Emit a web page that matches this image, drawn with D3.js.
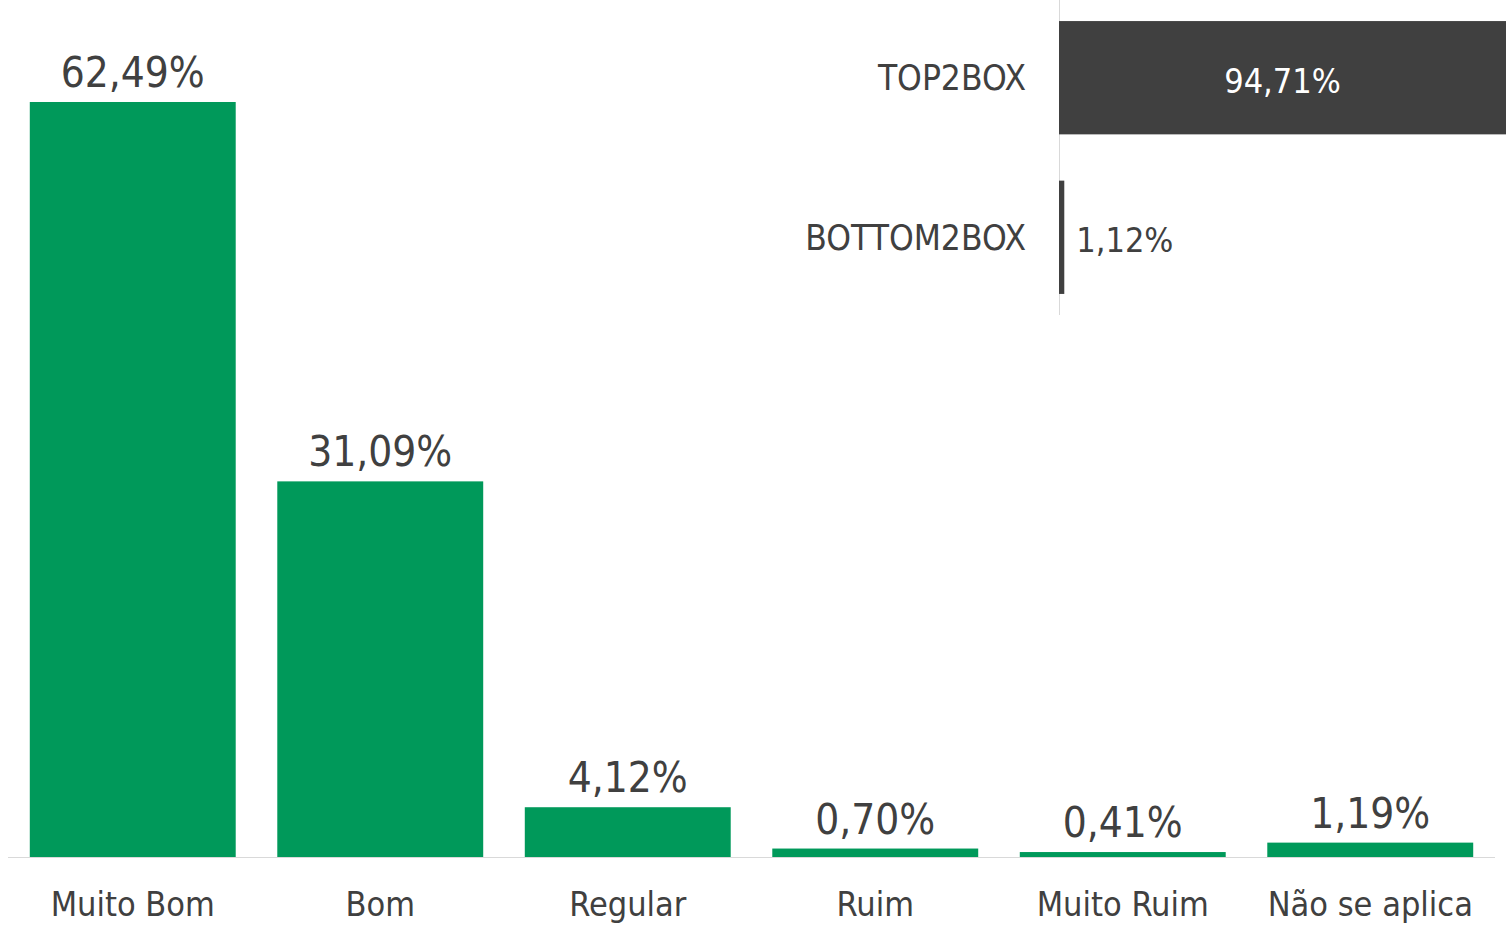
<!DOCTYPE html>
<html>
<head>
<meta charset="utf-8">
<script src="https://cdn.jsdelivr.net/npm/d3@7"></script>
<style>
  html, body { margin: 0; padding: 0; background: #fff; }
  svg { display: block; }
  text { font-family: "DejaVu Sans Condensed", "DejaVu Sans", sans-serif; fill: #404040; }
</style>
</head>
<body>
<svg id="chart" width="1506" height="927"></svg>
<script>
const categories = ["Muito Bom", "Bom", "Regular", "Ruim", "Muito Ruim", "Não se aplica"];
const values = [62.49, 31.09, 4.12, 0.70, 0.41, 1.19];
const boxCategories = ["TOP2BOX", "BOTTOM2BOX"];
const boxValues = [94.71, 1.12];

const fmt = v => v.toFixed(2).replace(".", ",") + "%";

const svg = d3.select("#chart");

// Main chart
const x = d3.scaleBand().domain(categories).range([9, 1494]).paddingInner(0.168).paddingOuter(0.084);
const y = d3.scaleLinear().domain([0, 70]).range([857, 857 - 70 * 12.082]);

svg.append("g").selectAll("rect").data(values).join("rect")
  .attr("x", (d, i) => x(categories[i]))
  .attr("width", x.bandwidth())
  .attr("y", d => y(d))
  .attr("height", d => y(0) - y(d))
  .attr("fill", "#00995A");

svg.append("line")
  .attr("x1", 8).attr("x2", 1495)
  .attr("y1", y(0) + 0.5).attr("y2", y(0) + 0.5)
  .attr("stroke", "#d9d9d9").attr("stroke-width", 1.2);

svg.append("g").selectAll("text").data(values).join("text")
  .attr("x", (d, i) => x(categories[i]) + x.bandwidth() / 2)
  .attr("y", d => y(d) - 15)
  .attr("text-anchor", "middle")
  .attr("font-size", 42)
  .text(d => fmt(d));

svg.append("g").selectAll("text").data(categories).join("text")
  .attr("x", d => x(d) + x.bandwidth() / 2)
  .attr("y", 916)
  .attr("text-anchor", "middle")
  .attr("font-size", 34)
  .text(d => d);

// Inset chart
const bx = d3.scaleLinear().domain([0, 100]).range([1059, 1059 + 472]);
const by = d3.scaleBand().domain(boxCategories).range([0, 315]).paddingInner(0.29).paddingOuter(0.132);

svg.append("line")
  .attr("x1", 1059.5).attr("x2", 1059.5)
  .attr("y1", 0).attr("y2", 315)
  .attr("stroke", "#d9d9d9").attr("stroke-width", 1);

svg.append("g").selectAll("rect").data(boxValues).join("rect")
  .attr("x", bx(0))
  .attr("y", (d, i) => by(boxCategories[i]))
  .attr("width", d => bx(d) - bx(0))
  .attr("height", by.bandwidth())
  .attr("fill", "#404040");

svg.append("g").selectAll("text").data(boxCategories).join("text")
  .attr("x", 1026)
  .attr("y", d => by(d) + by.bandwidth() / 2 + 12.5)
  .attr("text-anchor", "end")
  .attr("font-size", 35)
  .text(d => d);

svg.append("g").selectAll("text").data(boxValues).join("text")
  .attr("x", (d, i) => i === 0 ? (bx(0) + bx(d)) / 2 : bx(d) + 12)
  .attr("y", (d, i) => by(boxCategories[i]) + by.bandwidth() / 2 + 15)
  .attr("text-anchor", (d, i) => i === 0 ? "middle" : "start")
  .attr("font-size", 34)
  .style("fill", (d, i) => i === 0 ? "#ffffff" : "#404040")
  .text(d => fmt(d));
</script>
</body>
</html>
